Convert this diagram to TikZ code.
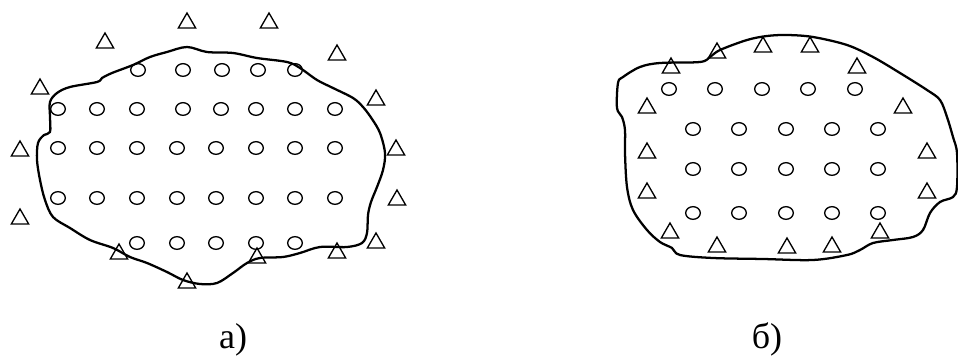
\documentclass[tikz,border=0pt]{standalone}
\usepackage{fontspec}
\setmainfont{Liberation Serif}
\usepackage{tikz}
\usetikzlibrary{shapes.geometric}

\begin{document}
\begin{tikzpicture}[
  x=0.75pt, y=-0.75pt,
  tri/.style={draw=black, line width=1pt, regular polygon, regular polygon sides=3,
              minimum size=15pt, inner sep=0pt},
  ring/.style={draw=black, line width=1pt, ellipse, minimum width=11pt,
               minimum height=9.5pt, inner sep=0pt},
  border/.style={draw=black, line width=1.7pt, line join=round},
  sublabel/.style={font=\fontsize{27}{30}\selectfont, anchor=base}
]
\useasboundingbox (0,0) rectangle (958,356);

% a) boundary
\draw[border] plot[smooth cycle, tension=0.55] coordinates {
  (187,47) (207,52) (233,53) (257,58) (287,62) (300,68) (317,80) (333,88)
  (353,98) (363,107) (372,119) (380,133) (385,153) (383,170) (377,187)
  (371,202) (368,215) (367,233) (362,243) (347,247) (320,247) (300,253)
  (283,257) (260,258) (247,263) (233,273) (217,283) (200,284) (183,280)
  (167,272) (147,263) (130,257) (113,248) (90,240) (70,228) (53,217)
  (45,200) (40,180) (37,160) (38,143) (44,135) (50,132) (50,117) (50,102)
  (57,93) (70,87) (97,82) (102,78) (112,73) (133,65) (150,57) (167,52)};

% a) stations inside
\foreach \x [count=\i] in {138,183,222,258,295}
  \node[ring] (a-r1-\i) at (\x,70) {};
\foreach \x [count=\i] in {58,97,137,183,221,256,295,335}
  \node[ring] (a-r2-\i) at (\x,109) {};
\foreach \y [count=\j] in {148,198}
  \foreach \x [count=\i] in {58,97,137,177,216,256,295,335}
    \node[ring] (a-r\j-\i-m) at (\x,\y) {};
\foreach \x [count=\i] in {137,177,216,256,295}
  \node[ring] (a-r5-\i) at (\x,243) {};

% a) stations outside
\foreach \p [count=\i] in {(187,23),(269,23),(105,43),(337,55),(40,89),(376,100),
    (20,151),(396,150),(397,200),(20,219),(376,243),(119,254),(257,258),
    (337,253),(187,283)}
  \node[tri] (a-t\i) at \p {};

% b) boundary
\draw[border] plot[smooth cycle, tension=0.55] coordinates {
  (787,35) (813,37) (847,45) (873,57) (900,73) (927,90) (940,100) (947,117)
  (953,137) (957,153) (957,187) (953,197) (940,202) (930,213) (923,230)
  (913,237) (893,240) (873,243) (860,250) (847,255) (813,260) (763,259)
  (713,258) (680,255) (672,248) (660,242) (647,230) (633,210) (627,187)
  (625,153) (625,130) (622,117) (617,108) (618,83) (623,77) (640,67)
  (660,63) (700,62) (710,57) (720,50) (747,40) (767,36)};

% b) stations inside
\foreach \x [count=\i] in {669,715,762,808,855}
  \node[ring] (b-r1-\i) at (\x,89) {};
\foreach \y [count=\j] in {129,169,213}
  \foreach \x [count=\i] in {693,739,786,832,878}
    \node[ring] (b-r\j-\i-m) at (\x,\y) {};

% b) stations on the edge
\foreach \p [count=\i] in {(671,68),(717,53),(763,47),(810,47),(857,68),
    (647,108),(903,108),(647,153),(927,153),(647,193),(927,193),(670,233),
    (717,247),(787,248),(832,247),(880,233)}
  \node[tri] (b-t\i) at \p {};

\node[sublabel] (lbl-a) at (233,349) {а)};
\node[sublabel] (lbl-b) at (767,349) {б)};

\end{tikzpicture}
\end{document}
